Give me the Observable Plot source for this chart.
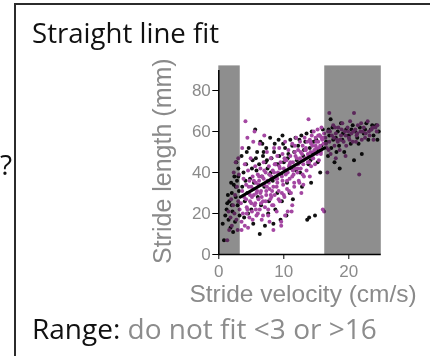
<!DOCTYPE html>
<html>
<head>
<meta charset="utf-8">
<script src="https://cdn.jsdelivr.net/npm/d3@7"></script>
<script src="https://cdn.jsdelivr.net/npm/@observablehq/plot@0.6"></script>
<style>
  html, body { margin: 0; padding: 0; background: #fff; }
  #wrap { position: relative; width: 430px; height: 356px; overflow: hidden; font-family: "Open Sans", sans-serif; }
  #frame { position: absolute; left: 14px; top: 3px; right: -10px; bottom: -10px; border-top: 2px solid #2b2b2b; border-left: 2px solid #2b2b2b; }
  .t { position: absolute; line-height: 1; white-space: nowrap; }
  #chart { position: absolute; left: 0; top: 0; }
</style>
</head>
<body>
<div id="wrap">
  <div id="chart"></div>
  <div id="frame"></div>
  <div class="t" id="q" style="left:0px; top:150px; font-size:28px; color:#111;">?</div>
  <div class="t" id="title" style="left:32px; top:19px; font-size:27.6px; color:#111;"></div>
  <div class="t" id="caption" style="left:32px; top:314px; font-size:28px;"><span id="capKey" style="color:#111;"></span> <span id="capVal" style="color:#8c8c8c;"></span></div>
</div>
<script>
const titleText = "Straight line fit";
const captionKey = "Range:";
const captionValue = "do not fit <3 or >16";
const xLabel = "Stride velocity (cm/s)";
const yLabel = "Stride length (mm)";
const xTicks = [0, 10, 20];
const yTicks = [0, 20, 40, 60, 80];

// excluded velocity ranges (gray bands)
const bandStart = [0, 16.3];
const bandEnd = [3.3, 25];

// fitted straight line
const fitX = [3.3, 16.3];
const fitY = [28, 52];

// black points
const blackX = [0.8,1.0,1.2,1.5,1.6,1.8,2.0,2.1,2.3,2.4,2.5,2.6,2.8,2.9,3.0,3.1,1.3,2.2,2.7,3.2,1.9,0.6,
 3.5,3.6,3.8,4.0,4.2,4.4,4.6,4.8,5.0,5.2,5.4,5.6,5.8,6.0,6.3,3.9,4.5,5.3,5.9,4.1,
 6.2,6.4,6.6,6.8,7.0,7.1,7.3,7.5,7.7,7.9,8.1,8.3,8.4,8.6,8.8,9.0,9.2,6.5,7.6,8.0,8.7,9.5,6.9,7.4,
 9.3,9.6,9.8,10.0,10.2,10.4,10.5,10.7,11.0,11.2,11.4,11.6,11.8,12.0,10.9,9.7,
 12.2,12.5,12.7,13.0,13.3,13.6,13.8,13.9,14.0,14.3,14.5,14.8,15.0,15.2,15.5,15.8,16.0,14.2,12.8,15.6,
 16.5,16.8,17.0,17.3,17.5,17.8,18.0,18.3,18.5,18.8,19.0,19.3,19.6,20.0,20.3,20.6,21.0,21.3,21.7,22.0,22.3,22.7,23.0,23.4,23.8,24.2,24.6,17.2,18.6,20.8,
 4.3,5.1,5.7,6.7,7.2,7.8,8.5,9.1,9.9,10.6,11.3,11.9,12.4,13.1,13.5,14.1,14.6,15.3,15.9,2.0,2.6,1.4,3.0,17.6,19.1,20.4,21.5,22.5,23.6,24.4,16.9,18.1];
const blackY = [7,19,22,17,26,13,30,21,34,38,16,28,36,24,42,31,25,11,45,19,35,15,
 48,33,40,26,44,30,52,37,22,46,35,61,41,28,10,18,20,15,50,36,
 44,55,38,48,33,14,52,42,26,57,47,36,15,54,44,30,56,24,20,40,22,17,50,46,
 48,39,58,45,52,19,35,49,56,42,27,50,57,46,30,26,
 53,40,58,48,55,17,44,18,52,60,49,19,56,45,58,53,61,35,33,40,
 55,48,58,52,62,45,57,60,53,64,56,50,61,58,54,63,60,57,62,49,59,64,56,61,58,63,60,66,42,46,
 50,42,47,54,45,39,50,44,54,47,53,41,56,51,59,46,55,51,57,24,33,29,38,56,59,61,54,61,63,56,61,50];

// purple points
const purpleX = [1.3,1.6,1.8,2.0,2.2,2.4,2.5,2.7,2.8,3.0,3.1,3.2,1.9,2.6,2.3,3.0,1.5,2.9,
 3.4,3.5,3.6,3.7,3.8,3.9,4.0,4.1,4.2,4.3,4.4,4.5,4.6,4.7,4.8,4.9,5.0,5.1,5.2,5.3,5.4,5.5,5.6,5.7,5.8,5.9,6.0,3.6,4.0,4.7,5.1,5.5,3.5,4.4,
 6.1,6.2,6.3,6.4,6.5,6.6,6.7,6.8,6.9,7.0,7.1,7.2,7.3,7.4,7.5,7.6,7.7,7.8,7.9,8.0,8.1,8.2,8.3,8.4,8.5,8.6,8.7,8.8,8.9,9.0,6.3,7.0,7.8,8.4,9.0,
 9.1,9.2,9.3,9.4,9.5,9.6,9.7,9.8,9.9,10.0,10.1,10.2,10.3,10.4,10.5,10.6,10.7,10.8,10.9,11.0,11.1,11.2,11.3,11.4,11.5,11.6,11.7,11.8,11.9,12.0,9.6,10.2,
 12.1,12.2,12.3,12.4,12.5,12.6,12.7,12.8,12.9,13.0,13.1,13.2,13.3,13.4,13.5,13.6,13.7,13.8,13.9,14.0,14.1,14.2,14.3,14.4,14.5,14.6,14.7,14.8,14.9,15.0,15.1,15.2,15.3,15.4,15.5,15.6,15.7,15.8,15.9,16.0,16.1,16.2,13.0,14.0,11.3,
 16.4,16.6,16.8,17.0,17.0,17.2,17.4,17.6,17.8,18.0,18.2,18.4,18.6,18.8,19.0,19.2,19.4,19.6,19.8,20.0,20.2,20.4,20.6,20.8,21.0,21.2,21.4,21.6,21.8,22.0,22.3,22.6,22.9,23.2,23.5,23.8,24.1,24.4,16.2,16.7,18.0,19.5,
 4.2,4.6,5.0,5.4,5.8,6.2,6.6,7.0,7.4,7.8,8.2,8.6,9.0,9.4,9.8,10.2,10.6,11.0,11.4,11.8,12.2,12.6,13.0,13.4,13.8,14.2,14.6,15.0,15.4,15.8,
 4.3,4.8,5.3,5.7,6.1,6.5,6.9,7.3,7.7,8.1,8.5,8.9,9.3,9.7,10.1,10.5,10.9,11.3,11.7,12.1,12.5,12.9,13.3,13.7,14.1,14.5,14.9,15.3,15.7,16.1,
 5.2,6.0,6.8,7.6,8.4,9.2,10.0,10.8,11.6,12.4,4.5,5.6,6.4,7.2,8.0,
 16.5,17.1,17.7,18.3,18.9,19.5,20.1,20.7,21.3,21.9,22.5,23.1,23.7,24.3,16.9,17.9,18.7,19.9,21.1,22.1];
const purpleY = [7,12,18,14,24,20,29,17,33,26,39,22,27,45,40,47,21,12,
 25,16,31,20,37,28,14,65,34,23,57,41,30,18,26,47,33,21,38,55,29,24,43,35,19,31,39,52,44,36,28,60,12,22,
 27,36,22,42,31,17,38,26,45,34,23,40,29,50,36,19,43,32,27,47,38,24,41,33,52,29,44,37,21,48,54,58,16,12,35,
 40,31,52,26,45,16,38,49,34,42,28,55,39,46,32,21,51,43,37,48,30,21,54,45,39,35,50,42,57,47,14,19,
 40,51,36,45,55,42,30,49,53,44,38,57,47,52,41,55,49,66,45,56,50,43,58,53,47,60,51,44,57,52,49,61,55,46,58,53,50,62,56,22,54,59,34,38,24,
 57,52,60,69,55,49,58,63,53,59,56,62,51,58,64,55,60,53,62,57,65,59,55,69,61,58,63,39,60,56,62,59,65,58,61,56,62,63,21,40,47,48,
 27,33,25,36,30,38,28,41,33,39,31,44,37,42,36,46,40,45,41,48,44,50,46,51,48,54,50,55,52,57,
 20,29,32,22,34,25,37,31,35,28,40,33,43,30,47,36,44,38,53,42,47,39,51,45,55,47,53,58,49,57,
 17,20,19,22,24,27,29,31,33,35,13,25,30,26,29,
 54,60,57,55,61,58,56,60,59,64,57,60,62,60,51,62,56,60,55,60];

const black = blackX.map((x, i) => ({x, y: blackY[i]}));
const purple = purpleX.map((x, i) => ({x, y: purpleY[i]}));
const bands = bandStart.map((s, i) => ({x1: s, x2: bandEnd[i]}));
const fit = fitX.map((x, i) => ({x, y: fitY[i]}));

document.getElementById("title").textContent = titleText;
document.getElementById("capKey").textContent = captionKey;
document.getElementById("capVal").textContent = captionValue;

const axisFont = "Liberation Sans, Arial, sans-serif";
const gray = "#8a8a8a";

const plot = Plot.plot({
  width: 430,
  height: 356,
  marginLeft: 218.3,
  marginRight: 49.2,
  marginTop: 65.4,
  marginBottom: 102,
  style: {fontFamily: axisFont, background: "transparent", overflow: "visible"},
  x: {domain: [0, 25]},
  y: {domain: [0, 92]},
  marks: [
    Plot.dot(black, {x: "x", y: "y", r: 2, fill: "#111", stroke: "none"}),
    Plot.dot(purple, {x: "x", y: "y", r: 2, fill: "#a447a2", stroke: "none"}),
    Plot.rect(bands, {x1: "x1", x2: "x2", y1: 0, y2: 92, fill: "#8e8e8e", mixBlendMode: "multiply"}),
    Plot.line(fit, {x: "x", y: "y", stroke: "#000", strokeWidth: 3}),
    Plot.ruleX([0], {y1: 0, y2: 89.8, stroke: "#000", strokeWidth: 1.5}),
    Plot.ruleY([0], {x1: 0, x2: 25, stroke: "#000", strokeWidth: 1.5}),
    Plot.axisX({ticks: xTicks, tickSize: 5, tickPadding: 5, fontSize: 17, stroke: "#000", fill: gray, label: null, tickFormat: d => String(d)}),
    Plot.axisY({ticks: yTicks, tickSize: 6, tickPadding: 2, fontSize: 17, stroke: "#000", fill: gray, label: null, tickFormat: d => String(d)}),
    Plot.text([xLabel], {frameAnchor: "bottom", dx: 3, dy: 47.5, lineAnchor: "bottom", textAnchor: "middle", fontSize: 24.5, fill: gray}),
    Plot.text([yLabel], {frameAnchor: "left", dx: -48, dy: 1, rotate: -90, lineAnchor: "bottom", textAnchor: "middle", fontSize: 25, fill: gray})
  ]
});
document.getElementById("chart").appendChild(plot);
</script>
</body>
</html>
